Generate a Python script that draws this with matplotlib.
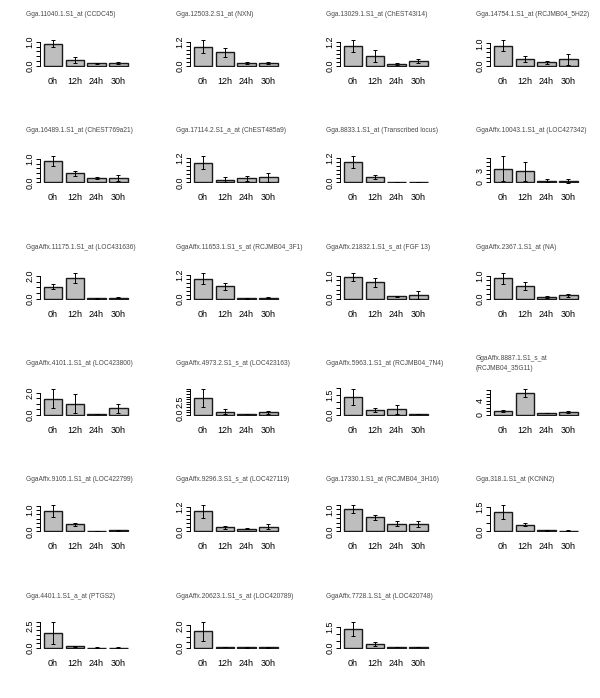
import numpy as np
import matplotlib
matplotlib.use("Agg")
import matplotlib.pyplot as plt

plt.rcParams['font.family'] = ['Liberation Sans', 'DejaVu Sans']

times = ["0h", "12h", "24h", "30h"]

titles = [
    "Gga.11040.1.S1_at (CCDC45)", "Gga.12503.2.S1_at (NXN)", "Gga.13029.1.S1_at (ChEST43I14)", "Gga.14754.1.S1_at (RCJMB04_5H22)",
    "Gga.16489.1.S1_at (ChEST769a21)", "Gga.17114.2.S1_a_at (ChEST485a9)", "Gga.8833.1.S1_at (Transcribed locus)", "GgaAffx.10043.1.S1_at (LOC427342)",
    "GgaAffx.11175.1.S1_at (LOC431636)", "GgaAffx.11653.1.S1_s_at (RCJMB04_3F1)", "GgaAffx.21832.1.S1_s_at (FGF 13)", "GgaAffx.2367.1.S1_at (NA)",
    "GgaAffx.4101.1.S1_at (LOC423800)", "GgaAffx.4973.2.S1_s_at (LOC423163)", "GgaAffx.5963.1.S1_at (RCJMB04_7N4)", "GgaAffx.8887.1.S1_s_at\n(RCJMB04_35G11)",
    "GgaAffx.9105.1.S1_at (LOC422799)", "GgaAffx.9296.3.S1_s_at (LOC427119)", "Gga.17330.1.S1_at (RCJMB04_3H16)", "Gga.318.1.S1_at (KCNN2)",
    "Gga.4401.1.S1_a_at (PTGS2)", "GgaAffx.20623.1.S1_s_at (LOC420789)", "GgaAffx.7728.1.S1_at (LOC420748)",
]

means = [
    [0.92, 0.25, 0.11, 0.11],
    [0.98, 0.69, 0.15, 0.15],
    [1.00, 0.49, 0.10, 0.24],
    [0.90, 0.31, 0.16, 0.29],
    [0.91, 0.38, 0.19, 0.19],
    [0.98, 0.135, 0.19, 0.24],
    [0.99, 0.26, 0.02, 0.02],
    [3.43, 2.74, 0.43, 0.43],
    [1.03, 1.82, 0.03, 0.09],
    [1.03, 0.63, 0.01, 0.05],
    [0.96, 0.71, 0.10, 0.16],
    [0.88, 0.54, 0.07, 0.15],
    [1.47, 1.00, 0.09, 0.59],
    [3.25, 0.62, 0.19, 0.50],
    [1.33, 0.35, 0.42, 0.07],
    [1.12, 6.23, 0.56, 0.93],
    [0.95, 0.32, 0.02, 0.04],
    [0.97, 0.20, 0.13, 0.23],
    [1.00, 0.63, 0.35, 0.32],
    [1.15, 0.41, 0.06, 0.04],
    [1.70, 0.15, 0.01, 0.01],
    [1.45, 0.05, 0.02, 0.02],
    [1.33, 0.24, 0.02, 0.05],
]

errs = [
    [0.15, 0.12, 0.03, 0.04],
    [0.33, 0.22, 0.04, 0.07],
    [0.30, 0.30, 0.04, 0.11],
    [0.25, 0.13, 0.07, 0.24],
    [0.21, 0.09, 0.06, 0.125],
    [0.31, 0.12, 0.12, 0.21],
    [0.28, 0.09, 0.01, 0.01],
    [3.04, 2.36, 0.40, 0.50],
    [0.22, 0.47, 0.02, 0.03],
    [0.30, 0.19, 0.01, 0.02],
    [0.18, 0.18, 0.02, 0.17],
    [0.25, 0.18, 0.03, 0.07],
    [0.85, 0.85, 0.02, 0.38],
    [1.70, 0.50, 0.05, 0.25],
    [0.60, 0.16, 0.35, 0.03],
    [0.28, 1.07, 0.10, 0.28],
    [0.27, 0.07, 0.01, 0.02],
    [0.30, 0.08, 0.03, 0.11],
    [0.18, 0.10, 0.11, 0.14],
    [0.42, 0.11, 0.03, 0.02],
    [1.30, 0.08, 0.01, 0.01],
    [0.88, 0.03, 0.01, 0.01],
    [0.52, 0.13, 0.01, 0.02],
]

# y tick step and the tick values that carry a label
tick_step = [0.2, 0.2, 0.2, 0.2, 0.2, 0.2, 0.2, 1, 0.5, 0.2, 0.2, 0.2,
             0.5, 0.5, 0.5, 1, 0.2, 0.2, 0.2, 0.5, 0.5, 0.5, 0.5]
tick_labels = [
    ["0.0", "1.0"], ["0.0", "1.2"], ["0.0", "1.2"], ["0.0", "1.0"],
    ["0.0", "1.0"], ["0.0", "1.2"], ["0.0", "1.2"], ["0", "3"],
    ["0.0", "2.0"], ["0.0", "1.2"], ["0.0", "1.0"], ["0.0", "1.0"],
    ["0.0", "2.0"], ["0.0", "2.5"], ["0.0", "1.5"], ["0", "4"],
    ["0.0", "1.0"], ["0.0", "1.2"], ["0.0", "1.0"], ["0.0", "1.5"],
    ["0.0", "2.5"], ["0.0", "2.0"], ["0.0", "1.5"],
]

W, H = 600, 698
fig = plt.figure(figsize=(W / 100, H / 100), dpi=100)
col_w = 150.0
row_h = H / 6.0

x_pos = np.array([0.7, 1.9, 3.1, 4.3])

for i, title in enumerate(titles):
    r, c = divmod(i, 4)
    left = c * col_w + 40.3
    width = 90.6
    top_px = r * row_h + 39.0
    bot_px = r * row_h + 67.0
    ax = fig.add_axes([left / W, 1 - bot_px / H, width / W, (bot_px - top_px) / H])
    m = np.array(means[i])
    e = np.array(errs[i])
    ymax = float(np.max(m + e))
    ax.set_xlim(0.016, 4.984)
    ax.set_ylim(-0.04 * ymax, 1.04 * ymax)
    ax.bar(x_pos, m, width=1.0, color="#BEBEBE", edgecolor="#1a1a1a", linewidth=1.0, zorder=2)
    ax.errorbar(x_pos, m, yerr=e, fmt="none", ecolor="black", elinewidth=0.7,
                capsize=1.7, capthick=0.7, zorder=3)
    step = tick_step[i]
    ticks = np.arange(0, 1.04 * ymax + 1e-9, step)
    lab_vals = [float(t) for t in tick_labels[i]]
    labs = []
    for t in ticks:
        s = ""
        for lv, lt in zip(lab_vals, tick_labels[i]):
            if abs(lv - t) < 1e-6:
                s = lt
        labs.append(s)
    ax.set_yticks(ticks)
    ax.set_yticklabels(labs, rotation=90, va="center", fontsize=6.4)
    ax.tick_params(axis="y", length=3.0, width=0.7, pad=1.2)
    ax.set_xticks(x_pos)
    ax.set_xticklabels(times, fontsize=6.5)
    ax.tick_params(axis="x", length=0, pad=7.3)
    for s in ["top", "right", "bottom"]:
        ax.spines[s].set_visible(False)
    ax.spines["left"].set_bounds(0, ticks[-1])
    ax.spines["left"].set_linewidth(0.7)
    ax.set_facecolor("none")
    fig.text((c * col_w + 26) / W, 1 - (r * row_h + 14.5) / H, title, fontsize=4.75,
             color="#4a4a4a", ha="left", va="center", linespacing=1.4)

fig.savefig("out.png", dpi=100)
